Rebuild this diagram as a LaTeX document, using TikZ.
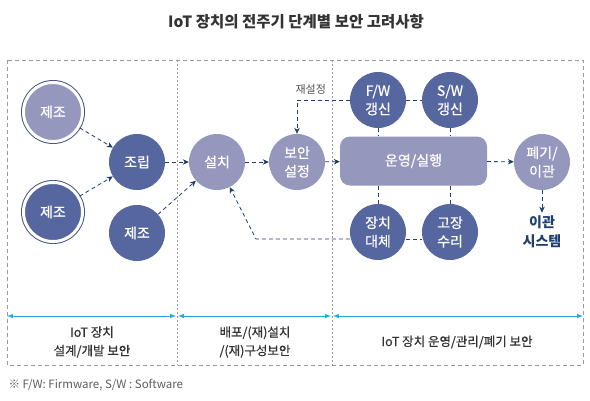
\documentclass[tikz,border=0pt]{standalone}
\usepackage{fontspec}
\setmainfont{Noto Sans CJK KR}
\newfontfamily\semibold{Noto Sans CJK KR}[FakeBold=0.6]
\usetikzlibrary{arrows,arrows.meta,positioning,shapes.geometric}
\definecolor{darkc}{HTML}{56679F}
\definecolor{lightc}{HTML}{9597BD}
\definecolor{ringc}{HTML}{46578A}
\definecolor{navy}{HTML}{1F3F6E}
\definecolor{sky}{HTML}{2AA7DF}
\definecolor{framec}{HTML}{9A9A9A}
\definecolor{textc}{HTML}{333333}
\tikzstyle{stage}=[circle,minimum size=56pt,inner sep=0pt,text=white,align=center,font=\semibold\fontsize{14}{18.5}\selectfont]
\tikzstyle{dark}=[stage,fill=darkc]
\tikzstyle{light}=[stage,fill=lightc]
\tikzstyle{ringed}=[minimum size=59pt,draw=white,line width=3pt,preaction={draw=ringc,line width=5pt}]
\tikzstyle{arrow}=[thick,->,>={Stealth[length=6pt,width=5.5pt]},draw=navy,dash pattern=on 4pt off 3pt]
\tikzstyle{link}=[thick,draw=navy,dash pattern=on 4pt off 3pt]
\tikzstyle{span}=[<->,>=latex,draw=sky,line width=1pt]
\tikzstyle{zone}=[draw=framec,line width=0.8pt,dash pattern=on 4pt off 3pt]
\tikzstyle{divider}=[draw=framec,line width=0.8pt,dash pattern=on 2pt off 2pt]
\tikzstyle{zonetext}=[text=textc,align=center,font=\semibold\fontsize{12.5}{18.5}\selectfont]

\begin{document}
\begin{tikzpicture}[x=1pt,y=1pt,node distance=80pt]
            \useasboundingbox (0,0) rectangle (590,400);
            \node (title) at (296,378) [text=textc,font=\fontsize{15.5}{18}\selectfont\bfseries] {IoT 장치의 전주기 단계별 보안 고려사항};

            % frame
            \coordinate (NW) at (7,340);
            \coordinate (SE) at (583,35);
            \coordinate (D1) at (177,340);
            \coordinate (D2) at (332,340);
            \draw[zone] (NW) rectangle (SE);
            \draw[divider] (D1) -- (D1 |- SE);
            \draw[divider] (D2) -- (D2 |- SE);

            % stages
            \node (P1) [light, ringed] at (53,288) {제조};
            \node (P2) [dark, ringed] at (53,188) {제조};
            \node (AS) [dark] at (137,238) {조립};
            \node (P3) [dark] at (137,167) {제조};
            \node (IN) [light] [right of=AS] {설치};
            \node (SC) [light] [right of=IN] {보안\\설정};
            \node (OP) [rectangle, rounded corners=10pt, fill=lightc, minimum width=147pt, minimum height=49pt, text=white, font=\semibold\fontsize{14}{18}\selectfont] at (413.5,239) {운영/실행};
            \node (FW) [dark] at (378,300) {F/W\\갱신};
            \node (SW) [dark] at (450,300) {S/W\\갱신};
            \node (RP) [dark] at (378,168) {장치\\대체};
            \node (FX) [dark] at (450,168) {고장\\수리};
            \node (DS) [light] at (542,238) {폐기/\\이관};
            \node (TS) [text=navy,align=center,font=\fontsize{14}{18.5}\selectfont\bfseries] at (542,168) {이관\\시스템};
            \coordinate (BK) at (256,161);

            \path[arrow] (P1) edge (AS);
            \path[arrow] (P2) edge (AS);
            \path[arrow] (AS) edge (IN);
            \path[arrow] (P3) edge (IN);
            \path[arrow] (IN) edge (SC);
            \path[arrow] (SC) edge (OP);
            \path[arrow] (OP) edge (DS);
            \path[arrow] (DS) edge (TS);
            \draw[arrow] (FW.west) -| node[pos=0.37, above=2pt, text=textc!85, font=\fontsize{11}{13}\selectfont] {재설정} (SC.north);
            \draw[arrow] (RP.west |- BK) -- (BK) -- (IN);

            \draw[link] (FW) -- (SW);
            \draw[link] (RP.east |- BK) -- (FX.west |- BK);
            \draw[link] (FW.south) -- (FW.south |- OP.north);
            \draw[link] (SW.south) -- (SW.south |- OP.north);
            \draw[link] (RP.north) -- (RP.north |- OP.south);
            \draw[link] (FX.north) -- (FX.north |- OP.south);

            % phases
            \coordinate (A0) at (7,84);
            \coordinate (A1) at (177,84);
            \coordinate (A2) at (332,84);
            \coordinate (A3) at (583,84);
            \draw[span] (A0) -- ([xshift=-1pt]A1);
            \draw[span] ([xshift=1pt]A1) -- ([xshift=-1pt]A2);
            \draw[span] ([xshift=1pt]A2) -- (A3);
            \node (L1) [zonetext] at (92,58) {IoT 장치\\설계/개발 보안};
            \node (L2) [zonetext] at (255,58) {배포/(재)설치\\/(재)구성보안};
            \node (L3) [zonetext] at (457,58) {IoT 장치 운영/관리/폐기 보안};
            \node (note) [anchor=west, text=textc!80, font=\fontsize{11.5}{13}\selectfont] at (5,15) {※ F/W: Firmware, S/W : Software};
            \end{tikzpicture}
\end{document}
